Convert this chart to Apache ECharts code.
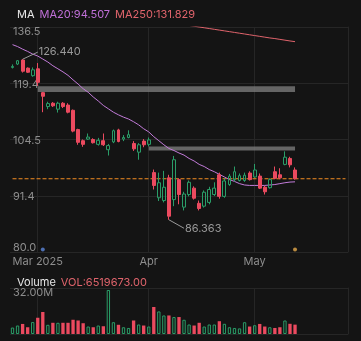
<!DOCTYPE html>
<html><head><meta charset="utf-8">
<script src="https://cdn.jsdelivr.net/npm/echarts@6/dist/echarts.min.js"></script>
<style>html,body{margin:0;padding:0;background:#141414;}#c{width:361px;height:341px;}</style>
</head><body><div id="c"></div>
<script>
// ---- data ----
const dates = [
 '2025-02-21','2025-02-24','2025-02-25','2025-02-26','2025-02-27','2025-02-28',
 '2025-03-03','2025-03-04','2025-03-05','2025-03-06','2025-03-07','2025-03-10','2025-03-11','2025-03-12','2025-03-13','2025-03-14',
 '2025-03-17','2025-03-18','2025-03-19','2025-03-20','2025-03-21','2025-03-24','2025-03-25','2025-03-26','2025-03-27','2025-03-28','2025-03-31',
 '2025-04-01','2025-04-02','2025-04-03','2025-04-04','2025-04-07','2025-04-08','2025-04-09','2025-04-10','2025-04-11','2025-04-14',
 '2025-04-15','2025-04-16','2025-04-17','2025-04-21','2025-04-22','2025-04-23','2025-04-24','2025-04-25','2025-04-28','2025-04-29','2025-04-30',
 '2025-05-01','2025-05-02','2025-05-05','2025-05-06','2025-05-07','2025-05-08','2025-05-09','2025-05-12','2025-05-13'
];
const futureDates = ['2025-05-14','2025-05-15','2025-05-16','2025-05-19','2025-05-20','2025-05-21','2025-05-22','2025-05-23','2025-05-27','2025-05-28'];
const xTicks = [['2025-02-28','Mar 2025'],['2025-04-01','Apr'],['2025-05-01','May']];
const opens  = [124.0,125.0,126.2,123.8,121.6,123.6,116.8,113.0,113.9,112.3,113.9,113.4,112.0,107.0,104.2,104.6,104.5,103.3,104.2,102.0,103.9,106.9,104.6,105.0,103.5,101.4,104.1,103.3,96.6,91.0,90.4,95.4,90.6,95.0,89.0,91.7,93.1,89.8,89.2,90.0,91.7,96.1,91.3,93.9,95.0,94.8,94.8,96.5,95.6,95.8,93.3,93.2,96.8,96.1,98.5,99.9,97.2];
const closes = [124.3,126.0,122.9,122.6,123.3,119.7,115.8,113.8,113.2,113.9,113.0,111.5,106.6,103.8,103.3,105.1,103.7,104.3,103.2,103.0,106.7,104.0,105.0,105.7,102.2,103.2,103.2,104.4,93.7,94.3,93.3,87.1,99.6,91.7,91.8,94.4,90.9,88.7,92.2,92.8,93.1,91.3,94.7,95.8,96.8,95.9,96.0,95.0,97.2,93.1,92.3,95.0,95.3,95.4,100.2,98.4,95.2];
const lows   = [123.7,124.7,122.5,122.4,121.3,118.7,111.5,112.3,112.9,111.4,112.6,111.2,106.3,103.2,102.7,104.4,103.5,103.0,102.9,100.6,103.6,103.8,104.1,104.8,101.7,99.6,102.6,102.8,92.8,90.3,90.0,86.363,89.2,89.6,88.3,91.3,90.6,88.3,88.9,89.6,91.4,90.8,91.0,93.6,94.6,94.6,94.5,94.8,95.4,92.9,91.7,93.0,95.1,95.1,98.3,97.8,95.0];
const highs  = [124.9,126.2,126.44,124.0,124.0,125.3,117.0,114.3,114.2,114.3,114.2,113.9,112.2,107.2,104.5,106.0,104.8,104.9,106.0,103.4,107.0,107.2,105.6,106.8,104.1,103.6,104.6,105.0,97.3,96.6,97.0,96.1,100.5,95.3,92.3,94.8,93.5,90.4,92.6,93.4,94.4,96.6,95.3,96.3,98.0,96.4,96.6,96.9,98.6,96.4,93.6,95.3,98.0,97.6,101.6,100.3,97.8];
const volumes = [4.5,5.9,7.0,4.7,8.3,11.3,15.3,6.4,7.8,7.8,7.8,7.8,9.9,9.4,7.5,5.2,4.7,5.9,5.4,30.6,8.2,6.4,4.7,4.2,9.4,6.6,5.9,5.2,18.8,15.7,12.9,12.9,11.8,11.8,9.9,6.6,5.9,7.8,5.2,6.6,6.6,8.9,7.1,4.7,4.2,3.9,8.2,5.2,6.1,7.0,5.2,4.7,4.2,4.7,9.4,7.1,6.519673];
const ma20 = [130.9,130.3,129.5,128.8,128.0,127.4,126.5,125.6,124.5,123.6,122.7,121.7,120.4,119.2,117.9,116.9,115.6,114.5,113.3,112.4,111.5,110.8,110.2,109.7,109.0,108.2,107.2,106.4,105.2,104.2,103.2,102.3,101.8,101.2,100.7,99.9,99.3,98.5,98.0,97.3,96.8,96.2,95.6,95.0,94.6,94.1,93.8,93.7,93.7,93.7,93.7,93.8,93.9,94.1,94.3,94.45,94.507];
const ma250 = [null,null,null,null,null,null,null,null,null,null,null,null,null,null,null,null,null,null,null,null,null,null,null,null,null,null,null,null,null,null,
 138.25,138.0,137.75,137.5,137.25,137.0,136.75,136.5,136.25,136.0,135.75,135.5,135.25,135.0,134.75,134.5,134.25,134.0,133.75,133.5,133.25,133.0,132.8,132.55,132.3,132.05,131.829];
const gapZones = [[ '2025-02-28', 118.6, 117.0 ], [ '2025-04-01', 102.8, 101.8 ]];
const events = [['2025-03-03','#5b86d9'],['2025-05-13','#e3a94b']];

// ---- scale helpers (log price scale) ----
const PMIN = 80, PMAX = 136.5;
const STEP = Math.log(PMAX/PMIN)/4;
const T = v => v == null ? null : Math.log(v/PMIN)/STEP;
const P = t => PMIN*Math.exp(t*STEP);

const BG = '#141414', GRID = '#262626', TXT = '#8e8e8e';
const RED = '#eb4a5f', GREEN = '#2a9d68', ORANGE = '#f28c22';
const FONT = 'Inter';
const cats = dates.concat(futureDates);
const tickMap = {}; xTicks.forEach(([d,t]) => tickMap[cats.indexOf(d)] = t);
const isTick = i => tickMap[i] !== undefined;
const lastDate = dates[dates.length-1];
const lastClose = closes[closes.length-1];

const candle = dates.map((d,i) => [T(opens[i]), T(closes[i]), T(lows[i]), T(highs[i])]);
const volData = volumes.map((v,i) => ({
  value: v*1e6,
  itemStyle: closes[i] >= opens[i] ? {color: 'transparent', borderColor: GREEN, borderWidth: 1} : {color: RED}
}));
let maxI = 0, minI = 0;
highs.forEach((h,i) => { if (h > highs[maxI]) maxI = i; });
lows.forEach((l,i) => { if (l < lows[minI]) minI = i; });

const chart = echarts.init(document.getElementById('c'), null, {renderer: 'canvas'});
const xBase = {
  type: 'category', data: cats, boundaryGap: true,
  axisLine: {show: false}, axisTick: {show: false},
  splitLine: {show: true, interval: (i) => isTick(i), alignWithLabel: true, lineStyle: {color: GRID, width: 1}}
};
const lbl = {color: '#9a9a9a', fontSize: 11, fontFamily: FONT};
const t11 = c => ({color: c, fontSize: 11, fontFamily: FONT});
chart.setOption({
  backgroundColor: BG,
  animation: false,
  title: [
    {left: 12, top: 1, text: '{a|MA} {b|MA20:' + ma20[ma20.length-1].toFixed(3) + '} {c|MA250:' + ma250[ma250.length-1].toFixed(3) + '}',
     textStyle: {fontWeight: 'normal', rich: {a: t11('#e8e8e8'), b: t11('#c070d8'), c: t11('#e0646c')}}},
    {left: 12, top: 269, text: '{a|Volume} {c|VOL:' + (volumes[volumes.length-1]*1e6).toFixed(2) + '}',
     textStyle: {fontWeight: 'normal', rich: {a: t11('#e8e8e8'), c: t11('#e0646c')}}}
  ],
  grid: [
    {left: 10, right: 13, top: 27, height: 225},
    {left: 10, right: 13, top: 288, height: 46}
  ],
  xAxis: [
    Object.assign({}, xBase, {gridIndex: 0,
      axisLabel: {show: true, interval: (i) => isTick(i), formatter: (v,i) => tickMap[i] || '', color: TXT, fontSize: 11, fontFamily: FONT, margin: 4}}),
    Object.assign({}, xBase, {gridIndex: 1, axisLabel: {show: false}})
  ],
  yAxis: [
    {type: 'value', gridIndex: 0, min: 0, max: 4, interval: 1,
     axisLine: {show: false}, axisTick: {show: false},
     splitLine: {show: true, lineStyle: {color: GRID}},
     axisLabel: {inside: true, margin: 3, color: TXT, fontSize: 11, fontFamily: FONT,
       formatter: v => { const s = P(v).toFixed(1); return v === 4 ? '{t|' + s + '}' : (v === 0 ? '{b|' + s + '}' : '{m|' + s + '}'); },
       rich: {t: Object.assign({padding: [10,0,0,0]}, t11(TXT)), b: Object.assign({padding: [0,0,8,0]}, t11(TXT)), m: Object.assign({padding: [2,0,0,0]}, t11(TXT))}}},
    {type: 'value', gridIndex: 0, position: 'right', min: 0, max: 4, interval: 4,
     axisLine: {show: true, lineStyle: {color: GRID}}, axisTick: {show: false}, axisLabel: {show: false}, splitLine: {show: false}},
    {type: 'value', gridIndex: 1, min: 0, max: 32e6, interval: 32e6,
     axisLine: {show: false}, axisTick: {show: false},
     splitLine: {show: true, lineStyle: {color: GRID}},
     axisLabel: {inside: true, margin: 3, color: TXT, fontSize: 11, fontFamily: FONT,
       formatter: v => v === 32e6 ? '{t|' + (v/1e6).toFixed(2) + 'M}' : '',
       rich: {t: Object.assign({padding: [10,0,0,0]}, t11(TXT))}}},
    {type: 'value', gridIndex: 1, position: 'right', min: 0, max: 32e6, interval: 32e6,
     axisLine: {show: true, lineStyle: {color: GRID}}, axisTick: {show: false}, axisLabel: {show: false}, splitLine: {show: false}}
  ],
  series: [
    // last-price reference line, spanning every category
    {type: 'line', xAxisIndex: 0, yAxisIndex: 0, data: cats.map(() => T(lastClose)), symbol: 'none', silent: true,
     lineStyle: {color: ORANGE, type: [4,2], width: 1.2}, z: 2},
    {type: 'candlestick', xAxisIndex: 0, yAxisIndex: 0, data: candle, barWidth: '66%', z: 4,
     itemStyle: {color: 'transparent', color0: RED, borderColor: GREEN, borderColor0: RED, borderWidth: 1},
     markArea: {silent: true, itemStyle: {color: 'rgba(128,128,128,0.75)'},
       data: gapZones.map(([d, top, bot]) => [{xAxis: d, yAxis: T(top)}, {xAxis: lastDate, yAxis: T(bot)}])},
     markLine: {silent: true, symbol: ['none','none'], animation: false,
       lineStyle: {color: '#9a9a9a', type: 'solid', width: 1},
       data: [
         [{coord: [maxI, T(highs[maxI])], label: Object.assign({show: true, position: 'end', formatter: highs[maxI].toFixed(3), distance: 1}, lbl)},
          {coord: [maxI + 3, T(highs[maxI] * 1.017)]}],
         [{coord: [minI, T(lows[minI])], label: Object.assign({show: true, position: 'end', formatter: lows[minI].toFixed(3), distance: 1}, lbl)},
          {coord: [minI + 3, T(lows[minI] * 0.98)]}]
       ]}
    },
    {type: 'line', xAxisIndex: 0, yAxisIndex: 0, data: ma20.map(T), symbol: 'none', lineStyle: {color: '#c27bd9', width: 1}, z: 3},
    {type: 'line', xAxisIndex: 0, yAxisIndex: 0, data: ma250.map(T), symbol: 'none', lineStyle: {color: '#e0646c', width: 1}, z: 3, clip: true},
    {type: 'scatter', xAxisIndex: 0, yAxisIndex: 0, symbolSize: 4,
     data: events.map(([d,c]) => ({value: [d, T(80.5)], itemStyle: {color: c}}))},
    {type: 'bar', xAxisIndex: 1, yAxisIndex: 2, data: volData, barWidth: '66%'}
  ]
});
</script></body></html>
